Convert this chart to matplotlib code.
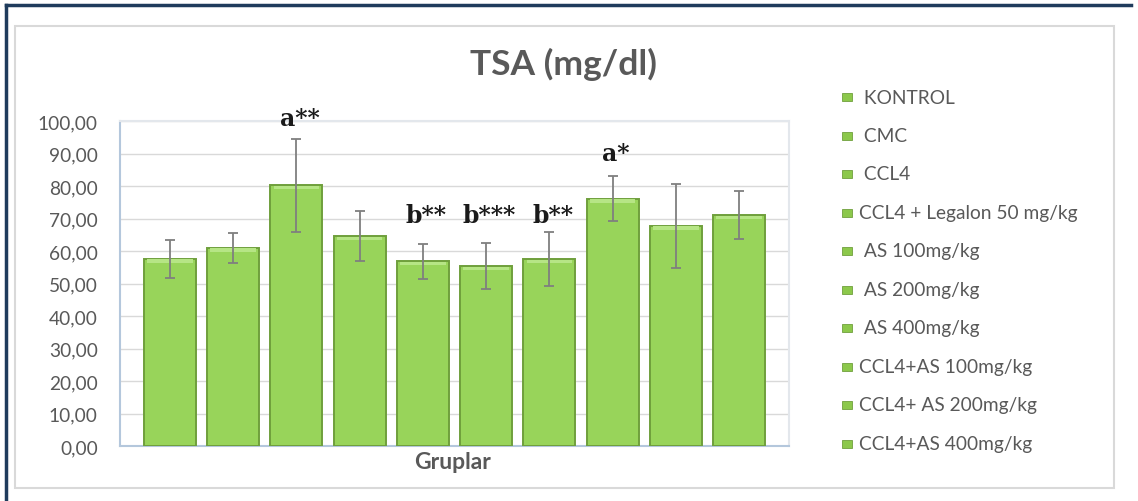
import matplotlib.pyplot as plt
from matplotlib.patches import Rectangle
from matplotlib.lines import Line2D

# data
groups = [" KONTROL", " CMC", " CCL4", "CCL4 + Legalon 50 mg/kg", " AS 100mg/kg",
          " AS 200mg/kg", " AS 400mg/kg", "CCL4+AS 100mg/kg", "CCL4+ AS 200mg/kg",
          "CCL4+AS 400mg/kg"]
means = [57.6, 61.0, 80.2, 64.6, 56.8, 55.4, 57.4, 76.1, 67.8, 71.1]
errors = [5.9, 4.6, 14.4, 7.6, 5.3, 7.0, 8.3, 6.9, 12.9, 7.4]
signif = ["", "", "a**", "", "b**", "b***", "b**", "a*", "", ""]
yticks = [0, 10, 20, 30, 40, 50, 60, 70, 80, 90, 100]

W, H = 1138, 502
fig = plt.figure(figsize=(W / 100, H / 100), dpi=100)
fig.patch.set_facecolor("white")

gray_txt = "#595959"
sans = ["Lato", "DejaVu Sans"]

# frames
fig.add_artist(Rectangle((15 / W, 1 - 489 / H), (1114 - 15) / W, (489 - 27) / H,
                         transform=fig.transFigure, fill=False, edgecolor="#d9d9d9", lw=1.5))
fig.add_artist(Line2D([6 / W, 1131 / W], [1 - 5.5 / H, 1 - 5.5 / H], transform=fig.transFigure,
                      color="#1f3b5c", lw=2.5))
fig.add_artist(Line2D([6 / W, 6 / W], [0, 1 - 5.5 / H], transform=fig.transFigure,
                      color="#1f3b5c", lw=2.5))

ax = fig.add_axes([120 / W, 1 - 447 / H, (789 - 120) / W, (447 - 122) / H])
x = list(range(len(means)))
ax.bar(x, means, width=0.82, color="#98d45a", edgecolor="#6f9f3c", linewidth=1.4, zorder=3)
# light bevel on top of each bar
ax.bar(x, [1.0] * len(means), bottom=[m - 1.2 for m in means], width=0.72,
       color="#b6e585", linewidth=0, zorder=3.5)
ax.errorbar(x, means, yerr=errors, fmt="none", ecolor="#7f7f7f", elinewidth=1.3,
            capsize=3.5, capthick=1.3, zorder=4)

# significance letters (baseline heights)
sig_base = {"a**": 98.7, "b**": 68.9, "b***": 68.9, "a*": 88.1}
for xi, s in zip(x, signif):
    if s:
        ax.text(xi + 0.05, sig_base[s], s, ha="center", va="baseline", fontsize=17,
                fontweight="bold", family="DejaVu Serif", color="#1a1a1a", clip_on=False)

ax.set_xlim(-0.79, 9.79)
ax.set_ylim(0, 100)
ax.set_yticks(yticks)
ax.set_yticklabels([f"{v:.2f}".replace(".", ",") for v in yticks])
ax.tick_params(axis="y", length=0, pad=16, labelsize=13.8, labelcolor=gray_txt)
for lab in ax.get_yticklabels():
    lab.set_family(sans)
ax.set_xticks([])
ax.grid(axis="y", color="#d9d9d9", lw=1, zorder=0)
ax.spines["left"].set_color("#b4c7dc")
ax.spines["bottom"].set_color("#b4c7dc")
ax.spines["top"].set_color("#e3e7ec")
ax.spines["right"].set_color("#e3e7ec")
for sp in ax.spines.values():
    sp.set_linewidth(1.5)

fig.text(453 / W, 1 - 463 / H, "Gruplar", ha="center", va="center", fontsize=16.5,
         fontweight="bold", color=gray_txt, family=sans)
fig.text(563 / W, 1 - 64 / H, "TSA (mg/dl)", ha="center", va="center", fontsize=25.5,
         fontweight="bold", color=gray_txt, family=sans)

# legend drawn by hand
for i, g in enumerate(groups):
    yc = 98 + i * 38.5
    fig.add_artist(Rectangle((842 / W, 1 - (yc + 4) / H), 10 / W, 8 / H,
                             transform=fig.transFigure, facecolor="#8cc84b",
                             edgecolor="#6f9f3c", lw=0.6))
    fig.text(859 / W, 1 - yc / H, g, ha="left", va="center", fontsize=13.8,
             color=gray_txt, family=sans)

fig.savefig("out.png", dpi=100)
